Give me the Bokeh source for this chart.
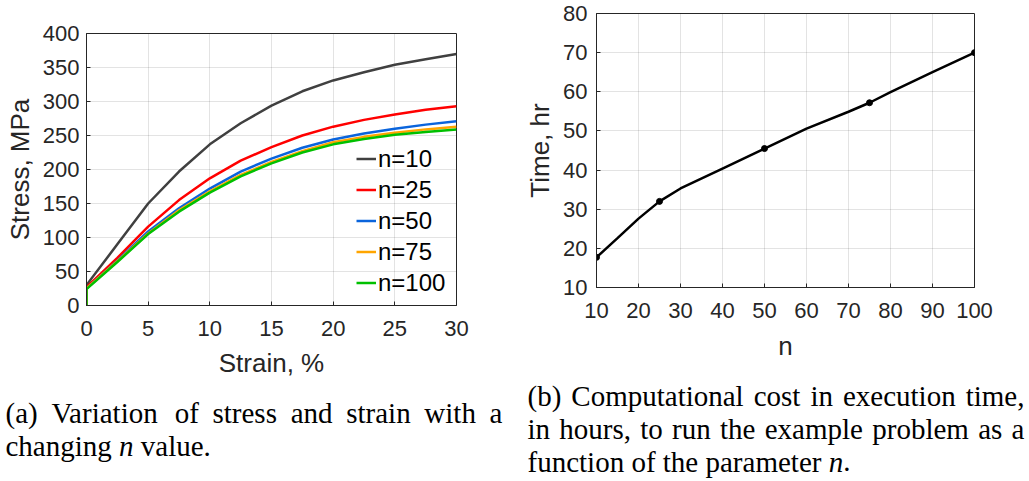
from bokeh.plotting import figure
from bokeh.layouts import column, row
from bokeh.models import Range1d, Legend, LegendItem, FixedTicker
from bokeh.embed import file_html
from bokeh.resources import INLINE
from bokeh.core.properties import value

# ---------------- data ----------------
strain = [0, 0, 2.5, 5, 7.5, 10, 12.5, 15, 17.5, 20, 22.5, 25, 27.5, 30]
stress_n10 = [0, 30, 90, 150, 197, 237, 268, 294, 315, 331, 343, 354, 362, 370]
stress_n25 = [0, 27, 70, 116, 155, 187, 213, 233, 250, 263, 273, 281, 288, 293]
stress_n50 = [0, 25, 66, 109, 143, 172, 197, 216, 232, 244, 253, 260, 266, 271]
stress_n75 = [0, 25, 65, 106, 140, 168, 192, 211, 227, 240, 248, 254, 259, 263]
stress_n100 = [0, 24, 64, 105, 138, 166, 190, 209, 225, 237, 245, 251, 255, 259]
series_labels = ["n=10", "n=25", "n=50", "n=75", "n=100"]
series_colors = ["#404040", "#ff0000", "#0a64dc", "#ffa500", "#00c000"]

n_points = [10, 25, 50, 75, 100]
time_points = [17.7, 32.0, 45.5, 57.2, 70.0]
n_curve = [10, 15, 20, 25, 30, 40, 50, 60, 70, 75, 80, 90, 100]
time_curve = [17.7, 22.6, 27.6, 32.0, 35.3, 40.4, 45.5, 50.6, 54.9, 57.2, 59.9, 65.0, 70.0]

x1_ticks = [0, 5, 10, 15, 20, 25, 30]
y1_ticks = [0, 50, 100, 150, 200, 250, 300, 350, 400]
x2_ticks = [10, 20, 30, 40, 50, 60, 70, 80, 90, 100]
y2_ticks = [10, 20, 30, 40, 50, 60, 70, 80]

AX = "#262626"
SANS = "Liberation Sans"


def style(p, xt, yt):
    p.outline_line_color = AX
    p.outline_line_width = 1
    p.background_fill_color = "white"
    p.border_fill_color = "white"
    p.xaxis.ticker = FixedTicker(ticks=xt)
    p.yaxis.ticker = FixedTicker(ticks=yt)
    p.xgrid.ticker = FixedTicker(ticks=xt)
    p.ygrid.ticker = FixedTicker(ticks=yt)
    p.grid.grid_line_color = AX
    p.grid.grid_line_alpha = 0.13
    for ax in (p.xaxis, p.yaxis):
        ax.axis_line_color = AX
        ax.major_tick_line_color = AX
        ax.major_tick_in = 4
        ax.major_tick_out = 0
        ax.minor_tick_line_color = None
        ax.major_label_text_font = SANS
        ax.major_label_text_font_size = "22px"
        ax.major_label_text_color = AX
        ax.axis_label_text_font = SANS
        ax.axis_label_text_font_size = "26px"
        ax.axis_label_text_font_style = "normal"
        ax.axis_label_text_color = AX


# ---------------- left plot ----------------
p1 = figure(width=500, height=380, output_backend="svg", toolbar_location=None,
            title=None,
            x_range=Range1d(0, 30), y_range=Range1d(0, 400),
            min_border_left=86, min_border_right=44, min_border_top=33, min_border_bottom=74)
style(p1, x1_ticks, y1_ticks)
p1.xaxis.axis_label = "Strain, %"
p1.yaxis.axis_label = "Stress, MPa"
p1.xaxis.major_label_standoff = 15
p1.xaxis.axis_label_standoff = 9
p1.yaxis.major_label_standoff = 7
p1.yaxis.axis_label_standoff = 5

items = []
for lab, col, ys in zip(series_labels, series_colors,
                        [stress_n10, stress_n25, stress_n50, stress_n75, stress_n100]):
    r = p1.line(strain, ys, line_color=col, line_width=2.5)
    items.append(LegendItem(label=lab, renderers=[r]))

leg = Legend(items=items, location=(270, 7), margin=0, padding=0, spacing=0,
             glyph_width=20, glyph_height=31, label_height=31, label_standoff=2,
             label_text_font=SANS, label_text_font_size="24px", label_text_color="#000000",
             background_fill_alpha=0, border_line_alpha=0)
p1.add_layout(leg)

# ---------------- right plot ----------------
p2 = figure(width=529, height=380, output_backend="svg", toolbar_location=None,
            title=None,
            x_range=Range1d(10, 100), y_range=Range1d(10, 80),
            min_border_left=96, min_border_right=55, min_border_top=13, min_border_bottom=93)
style(p2, x2_ticks, y2_ticks)
p2.xaxis.axis_label = "n"
p2.yaxis.axis_label = "Time, hr"
p2.xaxis.major_label_standoff = 15
p2.xaxis.axis_label_standoff = 10
p2.yaxis.major_label_standoff = 9
p2.yaxis.axis_label_standoff = 5
p2.line(n_curve, time_curve, line_color="black", line_width=2.5)
p2.scatter(n_points, time_points, size=6, color="black")

# ---------------- captions ----------------
TNR = {' ': 250, '(': 333, ')': 333, ',': 250, '.': 250,
       'a': 444, 'b': 500, 'c': 444, 'd': 500, 'e': 444, 'f': 333, 'g': 500, 'h': 500,
       'i': 278, 'j': 278, 'k': 500, 'l': 278, 'm': 778, 'n': 500, 'o': 500, 'p': 500,
       'q': 500, 'r': 333, 's': 389, 't': 278, 'u': 500, 'v': 500, 'w': 722, 'x': 500,
       'y': 500, 'z': 444, 'C': 667, 'V': 722}
FS = 29


def tw(s):
    return sum(TNR.get(c, 500) for c in s) * FS / 1000.0


caption_lines = [
    ([[("(a)", 0)], [("Variation", 0)], [("of", 0)], [("stress", 0)], [("and", 0)],
      [("strain", 0)], [("with", 0)], [("a", 0)]], 5, 502, 412),
    ([[("changing", 0)], [("n", 1)], [("value.", 0)]], 5, None, 445),
    ([[("(b)", 0)], [("Computational", 0)], [("cost", 0)], [("in", 0)],
      [("execution", 0)], [("time,", 0)]], 527, 1024, 395),
    ([[("in", 0)], [("hours,", 0)], [("to", 0)], [("run", 0)], [("the", 0)],
      [("example", 0)], [("problem", 0)], [("as", 0)], [("a", 0)]], 527, 1024, 428),
    ([[("function", 0)], [("of", 0)], [("the", 0)], [("parameter", 0)],
      [("n", 1), (".", 0)]], 527, None, 461),
]

rx, ry, rt = [], [], []
ix, iy, it = [], [], []
for words, xl, xr, base in caption_lines:
    widths = [sum(tw(s) for s, _ in w) for w in words]
    if xr is None:
        gap = tw(" ")
    else:
        gap = (xr - xl - sum(widths)) / (len(words) - 1)
    x = xl
    for w, wd in zip(words, widths):
        xx = x
        for s, ital in w:
            if ital:
                ix.append(xx); iy.append(base); it.append(s)
            else:
                rx.append(xx); ry.append(base); rt.append(s)
            xx += tw(s)
        x += wd + gap

pc = figure(width=1029, height=100, output_backend="svg", toolbar_location=None,
            title=None,
            x_range=Range1d(0, 1029), y_range=Range1d(480, 380),
            x_axis_type=None, y_axis_type=None, min_border=0)
pc.outline_line_color = None
pc.grid.visible = False
pc.text(rx, ry, text=rt, text_font=value("Liberation Serif"), text_font_size=f"{FS}px",
        text_color="black", text_baseline="alphabetic", text_align="left")
pc.text(ix, iy, text=it, text_font=value("Liberation Serif"), text_font_size=f"{FS}px",
        text_font_style="italic", text_color="black", text_baseline="alphabetic",
        text_align="left")

layout = column(row(column(p1), column(p2)), pc)
open("out.html", "w").write(file_html(layout, INLINE))
